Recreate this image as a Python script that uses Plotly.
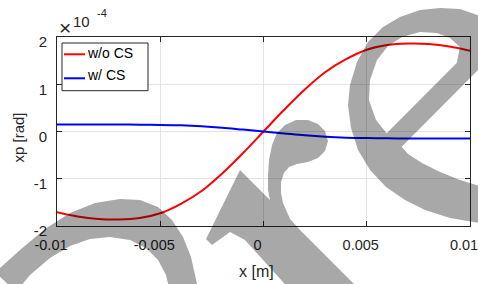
import plotly.graph_objects as go
import numpy as np

# ---------------- data ----------------
x_m = [-0.010, -0.009, -0.008, -0.007, -0.006, -0.005, -0.004, -0.003, -0.002, -0.001,
       0.000, 0.001, 0.002, 0.003, 0.004, 0.005, 0.006, 0.007, 0.008, 0.009, 0.010]
# xp in rad
xp_wo_cs = [-1.71e-4, -1.80e-4, -1.85e-4, -1.86e-4, -1.83e-4, -1.73e-4, -1.53e-4, -1.26e-4,
            -0.89e-4, -0.46e-4, 0.0, 0.46e-4, 0.89e-4, 1.26e-4, 1.53e-4, 1.73e-4, 1.83e-4,
            1.86e-4, 1.85e-4, 1.80e-4, 1.71e-4]
xp_w_cs = [0.150e-4, 0.150e-4, 0.150e-4, 0.148e-4, 0.145e-4, 0.140e-4, 0.130e-4, 0.110e-4,
           0.080e-4, 0.040e-4, 0.0, -0.040e-4, -0.080e-4, -0.110e-4, -0.130e-4, -0.140e-4,
           -0.145e-4, -0.148e-4, -0.150e-4, -0.150e-4, -0.150e-4]
series_names = ["w/o CS", "w/ CS"]
series_colors = ["#ff0000", "#0000ff"]
x_tick_vals = [-0.01, -0.005, 0, 0.005, 0.01]
x_tick_text = ["-0.01", "-0.005", "0", "0.005", "0.01"]
y_tick_vals = [-2, -1, 0, 1, 2]
y_tick_text = ["-2", "-1", "0", "1", "2"]
y_scale = 1e-4

# ---------------- geometry helpers ----------------
W, H = 478, 284
L, R, T, B = 57, 470, 37, 226


def px(xp, yp):
    return (xp - L) / (R - L), (B - yp) / (B - T)


def poly_path(pts, hole=False):
    a = 0.0
    for i in range(len(pts)):
        x1, y1 = pts[i]
        x2, y2 = pts[(i + 1) % len(pts)]
        a += x1 * y2 - x2 * y1
    if (a > 0) == hole:
        pts = pts[::-1]
    s = ""
    for i, (a_, b_) in enumerate(pts):
        X, Y = px(a_, b_)
        s += ("M" if i == 0 else "L") + f"{X:.4f},{Y:.4f} "
    return s + "Z "


# watermark outlines (pixel space)
e_outer = [(480, 16), (460, 9), (440, 8), (420, 10), (400, 17), (383, 27), (368, 42), (357, 62),
           (350, 85), (348, 105), (351, 128), (358, 150), (370, 170), (386, 187), (405, 200),
           (425, 210), (450, 218), (480, 223), (480, 186), (460, 180), (440, 172), (422, 163),
           (408, 154), (401.7, 146.7), (480, 68)]
e_hole = [(386.7, 133.3), (376, 120), (369, 100), (370, 80), (377, 60), (388, 46), (402, 37),
          (420, 32), (437, 33), (450, 38), (460, 47), (456.7, 63)]
arc_b = [(-5, 272), (0, 268), (20, 250), (45, 229), (70, 213), (95, 203), (120, 199), (140, 200),
         (158, 207), (172, 220), (183, 237), (191, 257), (197, 284), (200, 292), (170, 292),
         (166, 275), (158, 260), (146, 248), (130, 240), (110, 237), (90, 239), (70, 246),
         (50, 258), (30, 275), (16, 292)]
band_q = [(240, 170), (270, 200), (268, 190), (268, 175), (269, 160), (272, 145), (277, 133),
          (285, 125), (296, 120), (308, 120), (318, 124), (325, 131), (328, 141), (325, 151),
          (318, 158), (308, 162), (297, 164), (289, 167), (284, 173), (281, 182), (281, 193),
          (283, 203), (290, 219), (300, 230), (353, 283), (362, 292), (292, 292), (245, 240),
          (230, 232), (212, 245), (206, 239)]

wm_path = (poly_path(e_outer) + poly_path(e_hole, hole=True) + poly_path(arc_b)
           + poly_path(band_q))

# ---------------- figure ----------------
fig = go.Figure()
for ys, nm, col in zip([xp_wo_cs, xp_w_cs], series_names, series_colors):
    fig.add_trace(go.Scatter(x=x_m, y=np.array(ys) / y_scale, mode="lines", name=nm,
                             line=dict(color=col, width=2, shape="spline", smoothing=1.0),
                             showlegend=False))

axcol = "#262626"
font_fam = "Liberation Sans, Arial, sans-serif"
common = dict(showline=True, linecolor=axcol, linewidth=1, mirror="ticks", ticks="inside",
              ticklen=5, tickcolor=axcol, showgrid=True, gridcolor="#e3e3e3", gridwidth=1,
              zeroline=False, ticklabeloverflow="allow", automargin=False)
fig.update_xaxes(range=[-0.01, 0.01], tickvals=x_tick_vals, ticktext=x_tick_text,
                 ticklabelstandoff=6, ticklabelshift=-6,
                 tickfont=dict(family=font_fam, size=14.5, color=axcol), **common)
fig.update_yaxes(range=[-2, 2], tickvals=y_tick_vals, ticktext=y_tick_text,
                 ticklabelstandoff=6, ticklabelshift=5,
                 tickfont=dict(family=font_fam, size=15, color=axcol), **common)

shapes = []
# legend box
x0, y0 = px(62, 43)
x1, y1 = px(148, 90.7)
shapes.append(dict(type="rect", xref="paper", yref="paper", x0=x0, y0=y1, x1=x1, y1=y0,
                   line=dict(color=axcol, width=1), fillcolor="white", layer="above"))
for yy, col in zip([54.3, 78.3], series_colors):
    a0, b0 = px(64, yy)
    a1, _ = px(85, yy)
    shapes.append(dict(type="line", xref="paper", yref="paper", x0=a0, y0=b0, x1=a1, y1=b0,
                       line=dict(color=col, width=2), layer="above"))
# watermark
shapes.append(dict(type="path", xref="paper", yref="paper", path=wm_path,
                   fillcolor="rgba(0,0,0,0.34)", line=dict(width=0), layer="above",
                   fillrule="nonzero"))

ann = []


def add_text(t, xpix, ypix, size, xanchor="center", angle=0):
    X, Y = px(xpix, ypix)
    ann.append(dict(text=t, x=X, y=Y, xref="paper", yref="paper", showarrow=False,
                    xanchor=xanchor, yanchor="middle", textangle=angle,
                    font=dict(family=font_fam, size=size, color=axcol if t not in series_names else "black")))


for nm, yy in zip(series_names, [52, 74]):
    add_text(nm, 85, yy + 1, 14, xanchor="left")
add_text("×", 65.3, 27.5, 21)
add_text("10", 81, 21, 15)
add_text("-4", 102, 13.5, 11)
add_text("xp [rad]", 17.5, 138, 15, angle=-90)
add_text("x [m]", 256.5, 271.5, 16)

fig.update_layout(width=W, height=H, margin=dict(l=L, r=W - R, t=T, b=H - B, autoexpand=False),
                  paper_bgcolor="white", plot_bgcolor="white", shapes=shapes, annotations=ann,
                  showlegend=False)
fig.write_html("out.html", config={"displayModeBar": False},
               post_script="document.body.style.margin='0';document.body.style.overflow='hidden';")
